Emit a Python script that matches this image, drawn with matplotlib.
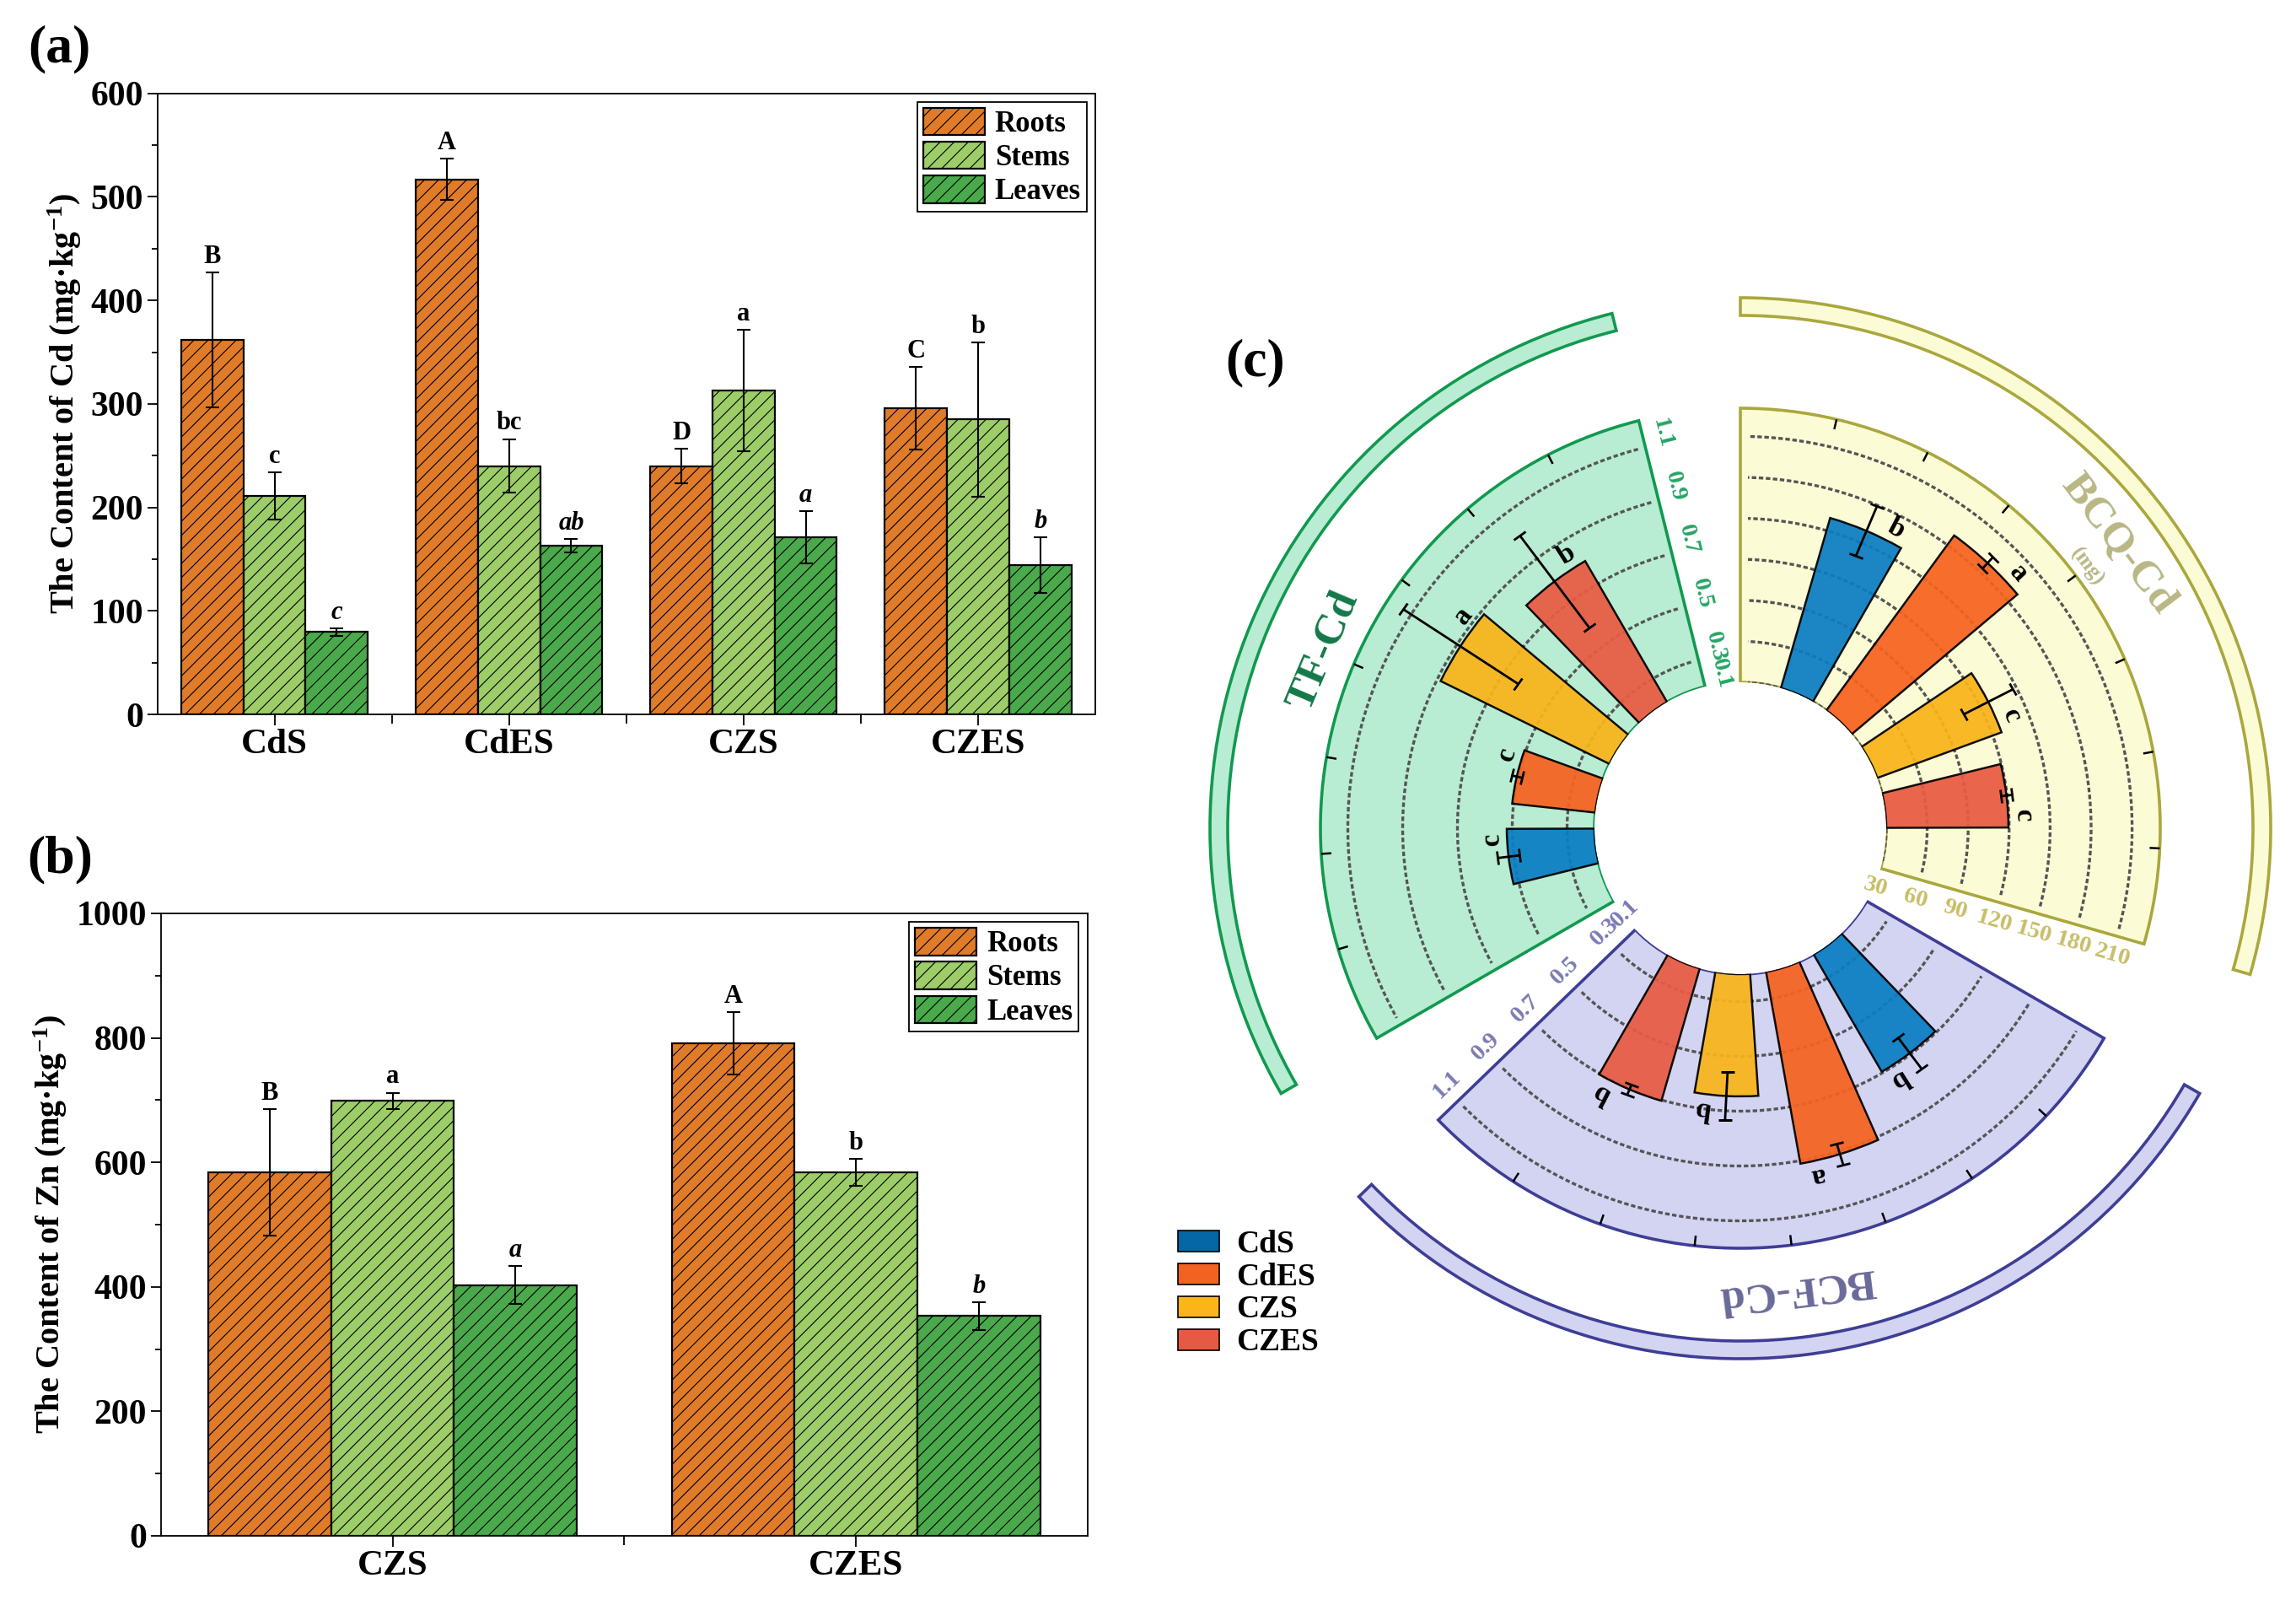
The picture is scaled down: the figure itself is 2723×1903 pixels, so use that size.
import numpy as np
import matplotlib
matplotlib.use('Agg')
import matplotlib.pyplot as plt
from matplotlib.ticker import MultipleLocator, FixedLocator
from matplotlib.patches import Patch
from matplotlib.markers import MarkerStyle
from matplotlib.transforms import Affine2D

plt.rcParams['font.family'] = ['Liberation Serif', 'DejaVu Serif']
plt.rcParams['font.weight'] = 'bold'
plt.rcParams['axes.labelweight'] = 'bold'
plt.rcParams['mathtext.fontset'] = 'custom'
plt.rcParams['mathtext.rm'] = 'Liberation Serif:bold'
plt.rcParams['mathtext.it'] = 'Liberation Serif:bold:italic'
plt.rcParams['mathtext.bf'] = 'Liberation Serif:bold'
plt.rcParams['hatch.linewidth'] = 0.8

# (a) Cd content in organs
groups_cd = ['CdS', 'CdES', 'CZS', 'CZES']
roots_cd = [362, 517, 240, 296]
roots_cd_err = [65, 20, 16.5, 40]
stems_cd = [211, 240, 313, 285]
stems_cd_err = [23, 26, 58.5, 74.5]
leaves_cd = [79.5, 163, 171, 144]
leaves_cd_err = [3.5, 6.5, 25.5, 27]
roots_cd_sig = ['B', 'A', 'D', 'C']
stems_cd_sig = ['c', 'bc', 'a', 'b']
leaves_cd_sig = ['c', 'ab', 'a', 'b']

# (b) Zn content in organs
groups_zn = ['CZS', 'CZES']
roots_zn = [584, 791]
roots_zn_err = [102, 50]
stems_zn = [699, 584]
stems_zn_err = [13, 21.5]
leaves_zn = [403, 353]
leaves_zn_err = [30, 22.5]
roots_zn_sig = ['B', 'A']
stems_zn_sig = ['a', 'b']
leaves_zn_sig = ['a', 'b']

organs = ['Roots', 'Stems', 'Leaves']
organ_colors = ['#e07b29', '#9ccd69', '#4aa94b']

# (c) TF / BCQ / BCF of Cd
treatments = ['CdS', 'CdES', 'CZS', 'CZES']
treat_colors = ['#0a7dc2', '#f6621f', '#f9b41a', '#e85b42']
legend_colors = ['#0567a5', '#f26322', '#fbb41a', '#e65a44']
tf_cd = [0.52, 0.505, 0.886, 0.795]
tf_cd_err = [0.04, 0.02, 0.25, 0.21]
tf_cd_sig = ['c', 'c', 'a', 'b']
bcq_cd = [159.6, 188.6, 126.9, 119.5]
bcq_cd_err = [19.7, 5.7, 20, 4]
bcq_cd_sig = ['b', 'a', 'c', 'c']
bcf_cd = [0.695, 0.911, 0.646, 0.703]
bcf_cd_err = [0.072, 0.04, 0.088, 0.02]
bcf_cd_sig = ['b', 'a', 'b', 'b']
frac_grid = [0.3, 0.5, 0.7, 0.9, 1.1]
frac_ticks = [0.2, 0.3, 0.5, 0.7, 0.9, 1.1]
frac_ticklabels = ['0.1', '0.3', '0.5', '0.7', '0.9', '1.1']
bcq_ticks = [30, 60, 90, 120, 150, 180, 210]

fig = plt.figure(figsize=(27.23, 19.03), dpi=100)


def organ_panel(rect, groups, vals, errs, sigs, ymax, ystep, ylabel):
    ax = fig.add_axes(rect)
    x = np.arange(len(groups))
    w = 0.265
    for i in range(3):
        pos = x + (i - 1) * w
        ax.bar(pos, vals[i], w, color=organ_colors[i], edgecolor='black', linewidth=1.6,
               hatch='//', label=organs[i], zorder=2)
        ax.errorbar(pos, vals[i], yerr=errs[i], fmt='none', ecolor='black', elinewidth=1.5,
                    capsize=6, capthick=1.5, zorder=3)
        for p, v, e, s in zip(pos, vals[i], errs[i], sigs[i]):
            ax.annotate(s, (p, v + e), xytext=(0, 3), textcoords='offset points',
                        ha='center', va='bottom', fontsize=22, fontweight='bold',
                        fontstyle='italic' if i == 2 else 'normal')
    ax.set_xlim(-0.5, len(groups) - 0.5)
    ax.set_ylim(0, ymax)
    ax.set_xticks(x)
    ax.set_xticklabels(groups, fontsize=31)
    ax.xaxis.set_minor_locator(FixedLocator(x[:-1] + 0.5))
    ax.yaxis.set_major_locator(MultipleLocator(ystep))
    ax.yaxis.set_minor_locator(MultipleLocator(ystep / 2))
    ax.tick_params(which='major', direction='out', length=9, width=1.3)
    ax.tick_params(axis='y', labelsize=30, pad=3)
    ax.tick_params(which='minor', direction='out', length=5, width=1.3)
    ax.tick_params(axis='x', which='minor', length=8)
    for sp in ax.spines.values():
        sp.set_linewidth(1.3)
    ax.set_ylabel(ylabel, fontsize=29, labelpad=6)
    leg = ax.legend(loc='upper right', fontsize=25, frameon=True, fancybox=False, edgecolor='black',
                    framealpha=1, handlelength=2.1, handleheight=1.05, labelspacing=0.12,
                    handletextpad=0.35, borderpad=0.2, borderaxespad=0.3)
    leg.get_frame().set_linewidth(1.3)
    return ax


organ_panel([0.0685, 0.5549, 0.4086, 0.3869], groups_cd,
            [roots_cd, stems_cd, leaves_cd], [roots_cd_err, stems_cd_err, leaves_cd_err],
            [roots_cd_sig, stems_cd_sig, leaves_cd_sig], 600, 100,
            'The Content of Cd (mg·kg$^{-1}$)')
organ_panel([0.0701, 0.0431, 0.4036, 0.3878], groups_zn,
            [roots_zn, stems_zn, leaves_zn], [roots_zn_err, stems_zn_err, leaves_zn_err],
            [roots_zn_sig, stems_zn_sig, leaves_zn_sig], 1000, 200,
            'The Content of Zn (mg·kg$^{-1}$)')

# polar panel: three overlaid full-circle polar axes, one radial scale each
C_RECT = [1424 / 2723, 1 - 1622 / 1903, 1280 / 2723, 1280 / 1903]
R_TOP, R_IN, R_OUT = 640.0, 173.0, 498.0
R_BAND = (608.0, 629.0)
SPAN, STEP, WIDTH = 106.0, 20.0, 13.7


def sector(start, vals, errs, sigs, vmin, px_unit, grid, ticks, ticklabels,
           fill, edge, lab_col, title, title_col, lab_shift, title_r, sub=None):
    ax = fig.add_axes(C_RECT, projection='polar')
    ax.set_axis_off()

    def to_v(r_px):
        return vmin + (r_px - R_IN) / px_unit

    vmax = to_v(R_OUT)
    t0 = np.deg2rad(start)
    span = np.deg2rad(SPAN)
    ax.bar(t0 + span / 2, vmax - vmin, width=span, bottom=vmin, color=fill,
           edgecolor=edge, linewidth=2.6, zorder=0)
    ax.bar(t0 + span / 2, (R_BAND[1] - R_BAND[0]) / px_unit, width=span, bottom=to_v(R_BAND[0]),
           color=fill, edgecolor=edge, linewidth=2.6, zorder=0)
    for g in grid:
        rg = R_IN + (g - vmin) * px_unit
        ins = 9.0 / rg
        tt = np.linspace(t0 + ins, t0 + span - ins, 200)
        ax.plot(tt, np.full_like(tt, g), color='#555555', lw=2.4, ls=(0, (1.6, 0.9)), zorder=1)
    tk = t0 + np.deg2rad(SPAN / 8 * np.arange(1, 8))
    ax.vlines(tk, to_v(R_OUT - 12), vmax, color='black', lw=1.8, zorder=1)

    th = t0 + np.deg2rad(83 - STEP * np.arange(4))
    ax.bar(th, np.array(vals) - vmin, width=np.deg2rad(WIDTH), bottom=vmin, color=treat_colors,
           edgecolor='black', linewidth=1.8, alpha=0.93, zorder=2)
    ax.errorbar(th, vals, yerr=errs, fmt='none', ecolor='black', elinewidth=2.0, capsize=0, zorder=3)
    for t, v, e, s in zip(th, vals, errs, sigs):
        d = np.rad2deg(t)
        cap = MarkerStyle('_', transform=Affine2D().rotate_deg(d + 90))
        ax.plot([t, t], [v - e, v + e], ls='none', marker=cap, ms=12, mew=2.0,
                color='black', zorder=3)
        tl = t - np.deg2rad(4.5)
        ax.text(tl, v + 18 / px_unit, s, rotation=np.rad2deg(tl) - 90, rotation_mode='anchor',
                ha='center', va='center', fontsize=24, color='black', zorder=4)

    rot = start if start <= 90 else start - 180
    for v, lab in zip(ticks, ticklabels):
        rp = R_IN + (v - vmin) * px_unit + lab_shift
        tl = t0 - np.arcsin(23 / rp)
        ax.text(tl, to_v(rp), lab, rotation=rot, rotation_mode='anchor', ha='center',
                va='center', fontsize=20.5, color=lab_col)

    tc = t0 + span / 2
    ax.text(tc, to_v(title_r), title, rotation=np.rad2deg(tc) - 90, rotation_mode='anchor',
            ha='center', va='center', fontsize=37, color=title_col)
    if sub:
        ax.text(tc, to_v(title_r - 46), sub, rotation=np.rad2deg(tc) - 90, rotation_mode='anchor',
                ha='center', va='center', fontsize=18, color=title_col)

    ax.set_rorigin(vmin - R_IN / px_unit)
    ax.set_rlim(vmin, vmin + (R_TOP - R_IN) / px_unit)
    return ax


sector(104, tf_cd, tf_cd_err, tf_cd_sig, 0.2, 325.0, frac_grid, frac_ticks, frac_ticklabels,
       '#b8ecd3', '#11994f', '#25a565', 'TF-Cd', '#137848', 12, 537)
sector(-16, bcq_cd, bcq_cd_err, bcq_cd_sig, 30, 1.62, bcq_ticks, bcq_ticks,
       [str(t) for t in bcq_ticks], '#fbfbd5', '#aaa73d', '#c8be68', 'BCQ-Cd', '#b9b784',
       2, 561, sub='(mg)')
sector(224, bcf_cd, bcf_cd_err, bcf_cd_sig, 0.2, 325.0, frac_grid, frac_ticks, frac_ticklabels,
       '#d3d3f2', '#3e3e96', '#7b7bb4', 'BCF-Cd', '#6a6a9a', -3, 551)

handles = [Patch(facecolor=c, edgecolor='black', linewidth=1.2) for c in legend_colors]
fig.legend(handles, treatments, loc='upper left', bbox_to_anchor=(1397 / 2723, 1 - 1458 / 1903),
           frameon=False, fontsize=27, handlelength=1.3, handleheight=0.65, labelspacing=0.1,
           handletextpad=0.55, borderpad=0, borderaxespad=0)

fig.text(0.026, 0.9695, '(a)', fontsize=46, ha='center', va='center')
fig.text(0.026, 0.4645, '(b)', fontsize=46, ha='center', va='center')
fig.text(0.5465, 0.774, '(c)', fontsize=46, ha='center', va='center')

fig.savefig('out.png', dpi=100, facecolor='white')
